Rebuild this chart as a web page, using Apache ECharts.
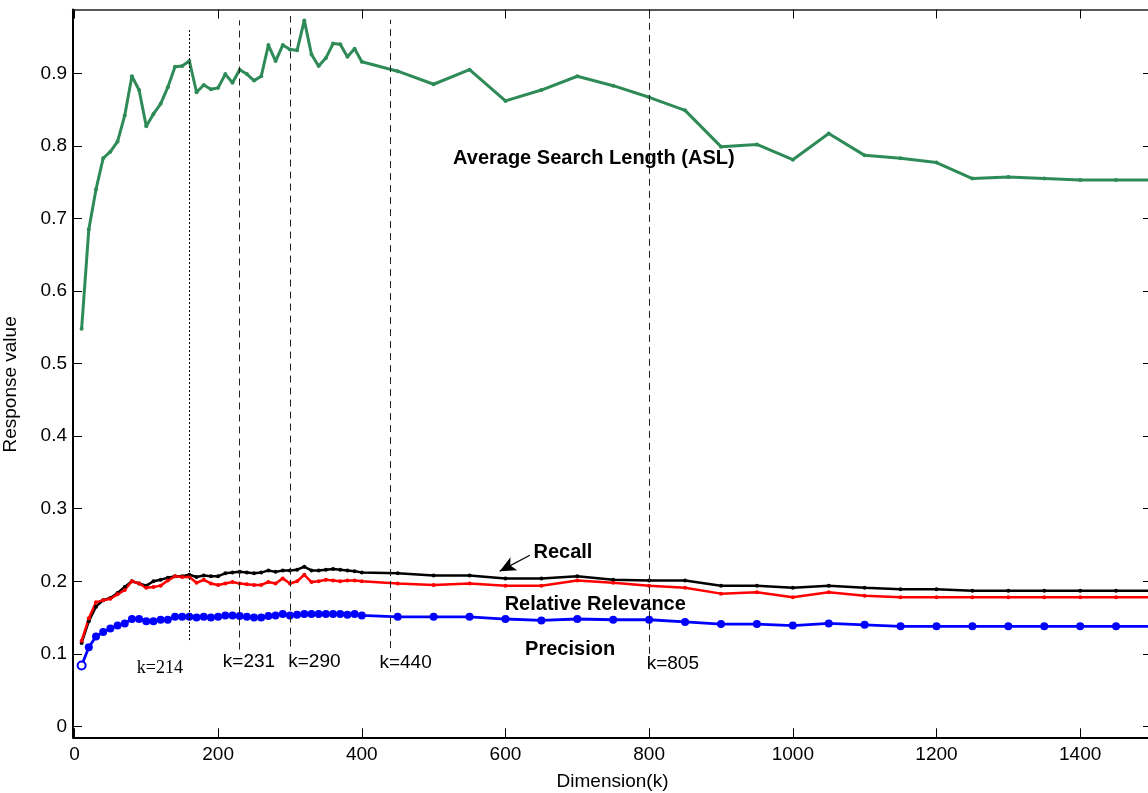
<!DOCTYPE html>
<html><head><meta charset="utf-8">
<script src="https://cdn.jsdelivr.net/npm/echarts@6/dist/echarts.min.js"></script>
<style>html,body{margin:0;padding:0;background:#fff;overflow:hidden}#c{width:1148px;height:793px}</style>
</head><body><div id="c"></div>
<script>
const dims = [10,20,30,40,50,60,70,80,90,100,110,120,130,140,150,160,170,180,190,200,
  210,220,230,240,250,260,270,280,290,300,310,320,330,340,350,360,370,380,390,400,
  450,500,550,600,650,700,750,800,850,900,950,1000,1050,1100,1150,1200,1250,1300,1350,1400,1450,1500];
const asl = [0.548,0.685,0.740,0.783,0.792,0.806,0.842,0.896,0.877,0.827,0.844,0.858,0.881,0.909,0.910,0.917,0.874,0.884,0.878,0.880,
  0.899,0.887,0.905,0.899,0.890,0.896,0.939,0.917,0.939,0.933,0.932,0.973,0.926,0.910,0.921,0.941,0.940,0.923,0.934,0.916,
  0.903,0.885,0.905,0.862,0.877,0.896,0.883,0.867,0.849,0.799,0.802,0.781,0.817,0.787,0.783,0.777,0.755,0.757,0.755,0.753,0.753,0.753];
const recall = [0.115,0.145,0.165,0.174,0.177,0.184,0.192,0.200,0.197,0.194,0.200,0.202,0.205,0.207,0.207,0.209,0.206,0.208,0.207,0.207,
  0.211,0.212,0.213,0.212,0.211,0.212,0.215,0.213,0.215,0.215,0.216,0.220,0.215,0.215,0.216,0.217,0.216,0.215,0.214,0.212,
  0.211,0.208,0.208,0.204,0.204,0.207,0.202,0.201,0.201,0.194,0.194,0.191,0.194,0.191,0.189,0.189,0.187,0.187,0.187,0.187,0.187,0.187];
const relevance = [0.118,0.149,0.171,0.174,0.176,0.182,0.188,0.200,0.197,0.191,0.192,0.194,0.201,0.207,0.206,0.206,0.198,0.202,0.197,0.195,
  0.197,0.199,0.197,0.196,0.195,0.195,0.199,0.197,0.204,0.197,0.200,0.209,0.199,0.200,0.202,0.201,0.200,0.201,0.201,0.200,
  0.197,0.195,0.197,0.194,0.194,0.201,0.198,0.194,0.191,0.183,0.185,0.178,0.185,0.180,0.178,0.178,0.178,0.178,0.178,0.178,0.178,0.178];
const precision = [0.084,0.109,0.124,0.130,0.135,0.139,0.142,0.148,0.148,0.145,0.145,0.147,0.147,0.151,0.151,0.151,0.150,0.151,0.150,0.151,
  0.153,0.153,0.152,0.151,0.150,0.150,0.152,0.153,0.155,0.153,0.154,0.155,0.155,0.155,0.155,0.155,0.155,0.154,0.155,0.153,
  0.151,0.151,0.151,0.148,0.146,0.148,0.147,0.147,0.144,0.141,0.141,0.139,0.142,0.140,0.138,0.138,0.138,0.138,0.138,0.138,0.138,0.138];

const xTicks = [0,200,400,600,800,1000,1200,1400];
const yTicks = [0,0.1,0.2,0.3,0.4,0.5,0.6,0.7,0.8,0.9];

// reference lines: x, bottom, top
const refX = [160,230,300,440,800];
const refBottom = [0.119,0.106,0.110,0.108,0.100];
const refTop = [0.962,0.973,0.979,0.974,0.984];

// bold annotations
const boldLabels = ['Average Search Length (ASL)','Recall','Relative Relevance','Precision'];
const boldX = [723,680,725,690];
const boldY = [0.783,0.240,0.168,0.106];
// k labels
const kLabels = ['k=214','k=231','k=290','k=440','k=805'];
const kX = [119,243,334,461,833];
const kY = [0.080,0.089,0.089,0.088,0.086];
// arrow from -> to
const arrowFrom = [634,0.236];
const arrowTo = [592,0.214];

const FONT = '"Liberation Sans", Arial, Helvetica, sans-serif';
const SERIF = '"Liberation Serif", "Times New Roman", serif';
const pair = arr => dims.map((d,i)=>[d,arr[i]]);

const chart = echarts.init(document.getElementById('c'), null, {renderer:'canvas'});
const lineSeries = (name, arr, color, size, width, extra) => Object.assign({
  name, type:'line', data: pair(arr), xAxisIndex:0, yAxisIndex:0,
  symbol:'circle', symbolSize:size, showSymbol:true, showAllSymbol:true,
  lineStyle:{color, width}, itemStyle:{color}, animation:false, silent:true, z:3
}, extra||{});

const precData = pair(precision).map((p,i)=> i===0 ? {value:p, itemStyle:{color:'#ffffff', borderColor:'#0000ff', borderWidth:2}} : p);

const refLines = refX.map((x,i)=>[
  {coord:[x, refBottom[i]], lineStyle:{type: i===0 ? [2,2] : [7,5], width:1, color: i===0 ? '#000' : '#222'}},
  {coord:[x, refTop[i]]}
]);

const kData = kLabels.map((t,i)=> i===0
  ? {value:[kX[i], kY[i]], name:t, label:{fontFamily:SERIF, fontSize:18}}
  : {value:[kX[i], kY[i]], name:t});
const boldData = boldLabels.map((t,i)=>({value:[boldX[i], boldY[i]], name:t}));

const option = {
  animation:false,
  backgroundColor:'#fff',
  grid:{left:73, right:-4, top:9.5, bottom:55.7, containLabel:false, outerBoundsMode:'none'},
  xAxis:[{
    type:'value', min:-2, max:1500, position:'bottom',
    name:'Dimension(k)', nameLocation:'middle', nameGap:35,
    nameTextStyle:{fontFamily:FONT, fontSize:19, color:'#000'},
    axisLine:{show:true, onZero:false, lineStyle:{color:'#000', width:2}},
    axisTick:{show:true, inside:true, length:9, customValues:xTicks, lineStyle:{color:'#000', width:1}},
    axisLabel:{show:true, customValues:xTicks, margin:8, fontFamily:FONT, fontSize:19, color:'#000',
      formatter: v => String(v)},
    splitLine:{show:false}
  },{
    type:'value', min:-2, max:1500, position:'top',
    axisLine:{show:true, onZero:false, lineStyle:{color:'#222', width:1.5}},
    axisTick:{show:true, inside:true, length:9, customValues:xTicks, lineStyle:{color:'#000', width:1}},
    axisLabel:{show:false}, splitLine:{show:false}
  }],
  yAxis:[{
    type:'value', min:-0.015, max:0.988, position:'left',
    name:'Response value', nameLocation:'middle', nameGap:53, nameRotate:90,
    nameTextStyle:{fontFamily:FONT, fontSize:19, color:'#000', padding:[0,22,0,0]},
    axisLine:{show:true, onZero:false, lineStyle:{color:'#000', width:2}},
    axisTick:{show:true, inside:true, length:9, customValues:yTicks, lineStyle:{color:'#000', width:1}},
    axisLabel:{show:true, customValues:yTicks, margin:6, fontFamily:FONT, fontSize:19, color:'#000',
      formatter: v => String(Math.round(v*10)/10)},
    splitLine:{show:false}
  },{
    type:'value', min:-0.015, max:0.988, position:'right',
    axisLine:{show:true, onZero:false, lineStyle:{color:'#000', width:1.5}},
    axisTick:{show:true, inside:true, length:9, customValues:yTicks, lineStyle:{color:'#000', width:1}},
    axisLabel:{show:false}, splitLine:{show:false}
  }],
  series:[
    {
      type:'line', data:[], silent:true, xAxisIndex:0, yAxisIndex:0,
      markLine:{silent:true, symbol:['none','none'], label:{show:false}, data: refLines, animation:false}
    },
    lineSeries('Recall', recall, '#000000', 4, 2.5),
    lineSeries('Relative Relevance', relevance, '#ff0000', 4, 2.5),
    lineSeries('Precision', precision, '#0000ff', 8, 2.8, {data: precData}),
    lineSeries('ASL', asl, '#2e8b57', 4, 3),
    {
      type:'line', data:[], silent:true,
      markLine:{silent:true, symbol:['none','arrow'], symbolSize:[11,16], label:{show:false},
        lineStyle:{color:'#000', width:1.2, type:'solid'},
        data:[[{coord:arrowFrom},{coord:arrowTo}]], animation:false}
    },
    {
      type:'scatter', symbolSize:0, silent:true, z:10, itemStyle:{opacity:1},
      data: boldData,
      label:{show:true, position:'inside', formatter:p=>p.name,
        fontFamily:FONT, fontWeight:'bold', fontSize:20, color:'#000', textBorderWidth:0, opacity:1}
    },
    {
      type:'scatter', symbolSize:0, silent:true, z:10, itemStyle:{opacity:1},
      data: kData,
      label:{show:true, position:'inside', formatter:p=>p.name,
        fontFamily:FONT, fontSize:19, color:'#000', textBorderWidth:0, opacity:1}
    }
  ]
};
chart.setOption(option);
</script>
</body></html>
